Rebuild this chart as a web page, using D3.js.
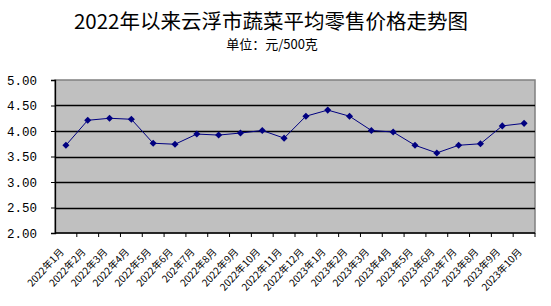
<!DOCTYPE html>
<html>
<head>
<meta charset="utf-8">
<script src="https://cdn.jsdelivr.net/npm/d3@7"></script>
<style>
  body { margin: 0; background: #fff; }
  svg { display: block; }
</style>
</head>
<body>
<svg width="551" height="306"></svg>
<script>
// months along the x axis (label 7 is spelled as in the source picture)
var months = ["2022年1月", "2022年2月", "2022年3月", "2022年4月", "2022年5月", "2022年6月",
    "202年7月", "2022年8月", "2022年9月", "2022年10月", "2022年11月", "2022年12月",
    "2023年1月", "2023年2月", "2023年3月", "2023年4月", "2023年5月", "2023年6月",
    "2023年7月", "2023年8月", "2023年9月", "2023年10月"];
// average retail price, yuan / 500g
var prices = [3.72, 4.21, 4.25, 4.23, 3.76, 3.74, 3.94, 3.92, 3.96, 4.01, 3.86,
    4.29, 4.41, 4.29, 4.01, 3.98, 3.72, 3.57, 3.72, 3.75, 4.10, 4.15];
var yTicks = [2.0, 2.5, 3.0, 3.5, 4.0, 4.5, 5.0];

var data = months.map(function (m, i) { return { month: m, value: prices[i] }; });

// note: "top" is taken by window.top, so use other names
var svg = d3.select("svg"),
    marginLeft = 55, marginTop = 80,
    width = 480, height = 153;

svg.append("text")
    .attr("x", 271)
    .attr("y", 29)
    .attr("text-anchor", "middle")
    .attr("font-family", "Noto Sans CJK SC")
    .attr("font-size", "20.5px")
    .text("2022年以来云浮市蔬菜平均零售价格走势图");

svg.append("text")
    .attr("x", 272)
    .attr("y", 49)
    .attr("text-anchor", "middle")
    .attr("font-family", "Noto Sans CJK SC")
    .attr("font-size", "13px")
    .text("单位：元/500克");

var x = d3.scaleBand().domain(months).range([0, width]),
    y = d3.scaleLinear().domain([2, 5]).range([height, 0]);

var g = svg.append("g")
    .attr("transform", "translate(" + marginLeft + "," + marginTop + ")");

g.append("rect")
    .attr("width", width)
    .attr("height", height)
    .attr("fill", "#c0c0c0")
    .attr("stroke", "#808080")
    .attr("stroke-width", 1.5);

// gridlines
g.selectAll(".grid")
    .data(yTicks.slice(1, -1))
    .enter().append("line")
    .attr("x1", 0)
    .attr("x2", width)
    .attr("y1", function (d) { return Math.round(y(d)) + 0.5; })
    .attr("y2", function (d) { return Math.round(y(d)) + 0.5; })
    .attr("stroke", "#000")
    .attr("stroke-width", 1.3);

// y axis
var yAxis = g.append("g")
    .call(d3.axisLeft(y).tickValues(yTicks).tickSize(4).tickPadding(14)
        .tickFormat(d3.format(".2f")));
yAxis.select(".domain").attr("stroke", "#000").attr("stroke-width", 1.3);
yAxis.selectAll("text")
    .attr("font-family", "Liberation Mono")
    .attr("font-size", "12.5px")
    .attr("fill", "#000");

// x axis with ticks at category boundaries
var xAxis = g.append("g")
    .attr("transform", "translate(0," + height + ")");
xAxis.append("line")
    .attr("x1", 0).attr("x2", width)
    .attr("stroke", "#000").attr("stroke-width", 1.5);
xAxis.selectAll(".tick")
    .data(months)
    .enter().append("line")
    .attr("x1", function (d) { return x(d) + x.bandwidth(); })
    .attr("x2", function (d) { return x(d) + x.bandwidth(); })
    .attr("y1", 0).attr("y2", 4)
    .attr("stroke", "#000");
xAxis.selectAll(".label")
    .data(months)
    .enter().append("text")
    .attr("transform", function (d) {
        return "translate(" + (x(d) + x.bandwidth() / 2 - 4) + ",17) rotate(-47)";
    })
    .attr("text-anchor", "end")
    .attr("dy", "0.35em")
    .attr("font-family", "Noto Sans CJK SC")
    .attr("font-size", "10px")
    .text(function (d) { return d; });

var line = d3.line()
    .x(function (d) { return x(d.month) + x.bandwidth() / 2; })
    .y(function (d) { return y(d.value); });

g.append("path")
    .datum(data)
    .attr("d", line)
    .attr("fill", "none")
    .attr("stroke", "#000080")
    .attr("stroke-width", 1);

g.selectAll(".pt")
    .data(data)
    .enter().append("path")
    .attr("class", "pt")
    .attr("d", d3.symbol().type(d3.symbolDiamond2).size(32))
    .attr("transform", function (d) {
        return "translate(" + (x(d.month) + x.bandwidth() / 2) + "," + y(d.value) + ")";
    })
    .attr("fill", "#000080");
</script>
</body>
</html>
